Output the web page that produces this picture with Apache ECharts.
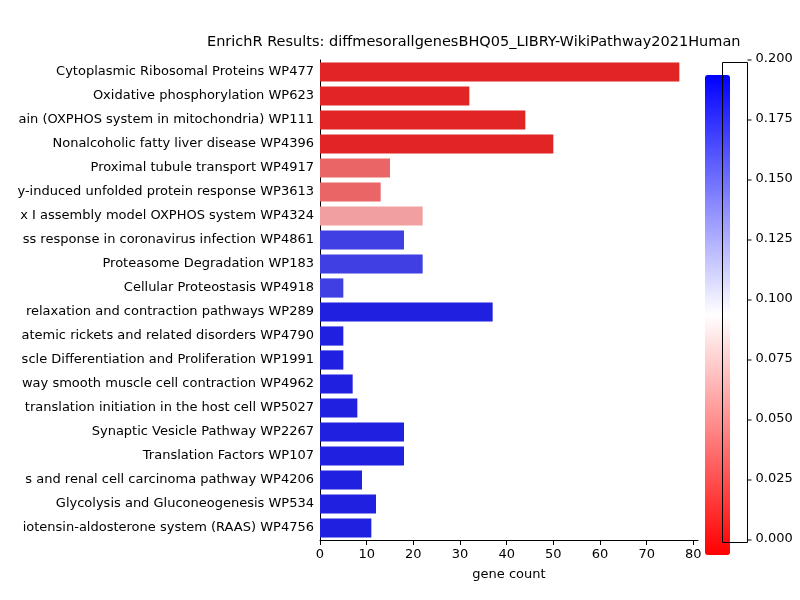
<!DOCTYPE html>
<html><head><meta charset="utf-8">
<script src="https://cdn.jsdelivr.net/npm/echarts@6/dist/echarts.min.js"></script>
<style>body{margin:0}#c{width:800px;height:600px}</style></head>
<body><div id="c"></div>
<script>
var terms = ['Cytoplasmic Ribosomal Proteins WP477','Oxidative phosphorylation WP623',
 'Electron transport chain (OXPHOS system in mitochondria) WP111','Nonalcoholic fatty liver disease WP4396',
 'Proximal tubule transport WP4917','Cytosolic DNA-sensing / ER stress-induced unfolded protein response WP3613',
 'Mitochondrial complex I assembly model OXPHOS system WP4324','Host-pathogen interaction: stress response in coronavirus infection WP4861',
 'Proteasome Degradation WP183','Cellular Proteostasis WP4918',
 'Calcium regulation in cardiac cell relaxation and contraction pathways WP289','Hypophosphatemic rickets and related disorders WP4790',
 'Regulation of Muscle Differentiation and Proliferation WP1991','Molecular pathway smooth muscle cell contraction WP4962',
 'SARS-CoV-2 mechanisms of translation initiation in the host cell WP5027','Synaptic Vesicle Pathway WP2267',
 'Translation Factors WP107','Hypoxia and renal cell carcinoma pathway WP4206',
 'Glycolysis and Gluconeogenesis WP534','Renin-angiotensin-aldosterone system (RAAS) WP4756'];
var shownTerms = ['Cytoplasmic Ribosomal Proteins WP477','Oxidative phosphorylation WP623',
 'ain (OXPHOS system in mitochondria) WP111','Nonalcoholic fatty liver disease WP4396',
 'Proximal tubule transport WP4917','y-induced unfolded protein response WP3613',
 'x I assembly model OXPHOS system WP4324','ss response in coronavirus infection WP4861',
 'Proteasome Degradation WP183','Cellular Proteostasis WP4918',
 'relaxation and contraction pathways WP289','atemic rickets and related disorders WP4790',
 'scle Differentiation and Proliferation WP1991','way smooth muscle cell contraction WP4962',
 'translation initiation in the host cell WP5027','Synaptic Vesicle Pathway WP2267',
 'Translation Factors WP107','s and renal cell carcinoma pathway WP4206',
 'Glycolysis and Gluconeogenesis WP534','iotensin-aldosterone system (RAAS) WP4756'];
var geneCount = [77,32,44,50,15,13,22,18,22,5,37,5,5,7,8,18,18,9,12,11];
var pValue = [0.002,0.002,0.002,0.002,0.031,0.031,0.057,0.186,0.186,0.186,0.2,0.2,0.2,0.2,0.2,0.2,0.2,0.2,0.2,0.2];

function mix(a,b,t){return a.map(function(v,i){return Math.round(v+(b[i]-v)*t);});}
function barColor(p){
  var red=[224,32,32], white=[255,255,255], blue=[32,32,224], c;
  if(p<=0.1) c=mix(red,white,p/0.1); else c=mix(white,blue,(p-0.1)/0.1);
  return 'rgb('+c.join(',')+')';
}
var data = geneCount.map(function(v,i){return {value:v,itemStyle:{color:barColor(pValue[i])}};});

var chart = echarts.init(document.getElementById('c'));
chart.setOption({
  animation:false,
  textStyle:{fontFamily:'DejaVu Sans'},
  title:{text:'EnrichR Results: diffmesorallgenesBHQ05_LIBRY-WikiPathway2021Human',left:202,top:30,
    textStyle:{fontSize:14.5,fontWeight:'normal',color:'#000',fontFamily:'DejaVu Sans'}},
  grid:{left:320,top:60,width:378,height:480},
  xAxis:{type:'value',min:0,max:81,interval:10,name:'gene count',nameLocation:'middle',nameGap:28,
    nameTextStyle:{fontSize:13,color:'#000'},
    axisLine:{show:true,lineStyle:{color:'#000'}},axisTick:{show:true,lineStyle:{color:'#000'}},
    axisLabel:{fontSize:13,color:'#000',showMaxLabel:false},splitLine:{show:false}},
  yAxis:{type:'category',data:shownTerms,inverse:true,
    axisLine:{lineStyle:{color:'#000'}},axisTick:{alignWithLabel:true,lineStyle:{color:'#000'}},
    axisLabel:{fontSize:13,color:'#000',margin:6}},
  visualMap:{type:'continuous',min:0,max:0.2,seriesIndex:1,calculable:false,
    inRange:{color:['#ff0000','#ffffff','#0000ff']},
    right:55,top:60,itemWidth:25,itemHeight:480,text:null,showLabel:false},
  graphic:[0,0.025,0.05,0.075,0.1,0.125,0.15,0.175,0.2].map(function(v){
    return {type:'group',left:745,top:540-v/0.2*480-8,children:[
      {type:'line',shape:{x1:0,y1:8,x2:4,y2:8},style:{stroke:'#000'}},
      {type:'text',x:8,y:0,style:{text:v.toFixed(3),font:'13px DejaVu Sans',fill:'#000'}}]};
  }).concat([{type:'rect',left:720,top:60,shape:{width:25,height:480},style:{fill:'none',stroke:'#000'},z:100}]),
  series:[{type:'bar',data:data,barCategoryGap:'20%'},
    {type:'scatter',data:[]}]
});
</script></body></html>
